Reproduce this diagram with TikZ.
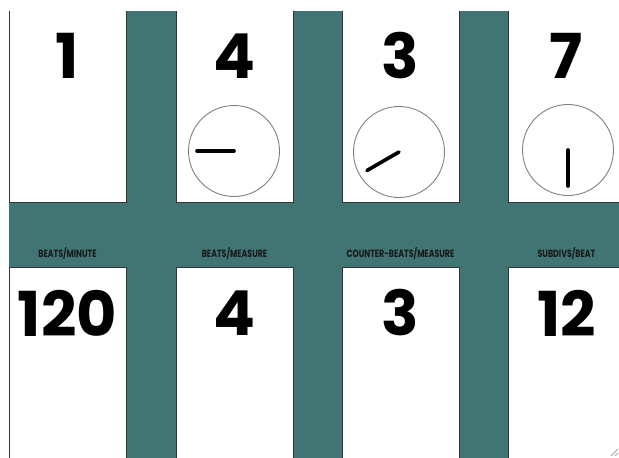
\documentclass[tikz,border=0pt]{standalone}
\usepackage{fontspec}
\newfontfamily\numfont{Poppins}
\newfontfamily\unitfont{Poppins}[FakeStretch=0.75]
\usetikzlibrary{positioning}
\definecolor{panelteal}{RGB}{64,117,116}
\tikzset{
  bignum/.style={font=\numfont\bfseries\fontsize{62}{62}\selectfont, inner sep=0pt, anchor=center},
  unitlabel/.style={font=\unitfont\bfseries\fontsize{10.5}{10.5}\selectfont, inner sep=0pt, text=black!90},
  cardedge/.style={draw=black!80, line width=1pt},
  dial/.style={draw=gray, line width=0.9pt, circle, minimum size=91pt, inner sep=0pt},
  hand/.style={line width=3.6pt, line cap=round},
  grip/.style={draw=gray!70, line width=0.8pt}
}
\begin{document}
\begin{tikzpicture}[x=1pt,y=-1pt]
  \useasboundingbox (0,0) rectangle (619,458);
  \clip (0,0) rectangle (619,458);
  % teal board
  \fill[panelteal] (9,11) rectangle (619,458);
  % cards, numbers and unit labels
  \foreach \xl/\topnum/\botnum/\unit [count=\i] in {9/1/120/{BEATS/MINUTE}, 176/4/4/{BEATS/MEASURE}, 342/3/3/{COUNTER-BEATS/MEASURE}, 508/7/12/{SUBDIVS/BEAT}} {
    \fill[white] (\xl,11) rectangle ++(117,191);
    \fill[white] (\xl,267) rectangle ++(117,191);
    \draw[cardedge] (\xl,11) -- (\xl,202) -- (\xl+117,202) -- (\xl+117,11);
    \draw[cardedge] (\xl,458) -- (\xl,267) -- (\xl+117,267) -- (\xl+117,458);
    \node[bignum] (top\i) at (\xl+58.5,56) {\topnum};
    \node[bignum] (bot\i) at (\xl+58.5,313) {\botnum};
    \node[unitlabel] (unit\i) at (\xl+58.5,253) {\unit};
  }
  % dials (y grows downwards, so angles are mirrored)
  \node[dial] (dial2) at (234,151) {};
  \node[dial] (dial3) at (399,152) {};
  \node[dial] (dial4) at (568,150) {};
  \draw[hand] (dial2.center) -- ++(180:37);
  \draw[hand] (dial3.center) -- ++(150:37);
  \draw[hand] (dial4.center) -- ++(90:36);
  % resize grip
  \draw[grip] (611,456) -- (618,449);
  \draw[grip] (615,456) -- (618,453);
\end{tikzpicture}
\end{document}
